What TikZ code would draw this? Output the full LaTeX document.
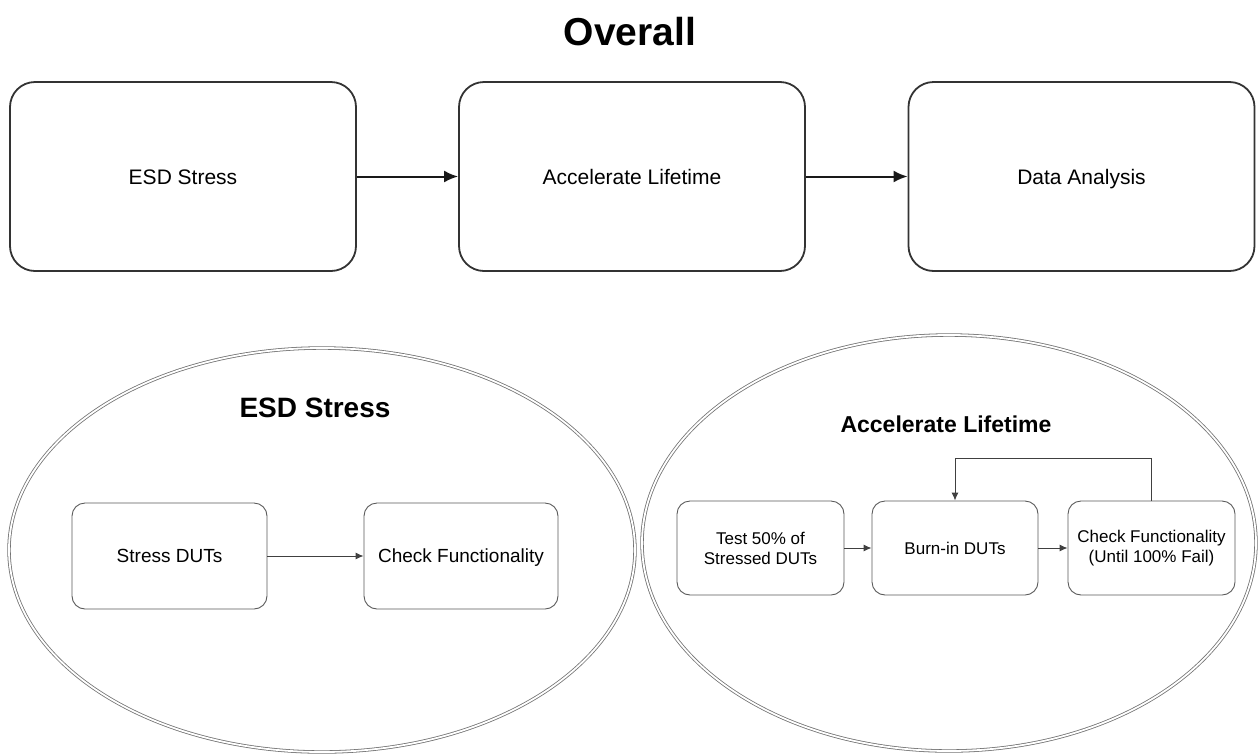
\documentclass[tikz,border=0pt]{standalone}
\usepackage{fontspec}
\setmainfont{Liberation Sans}
\usetikzlibrary{arrows.meta}

\begin{document}
\begin{tikzpicture}[x=1pt, y=-1pt,
    oneline/.style={text height=#1, text depth=0pt},
    bigbox/.style={draw=black!80, line width=1.8pt, rounded corners=25pt, minimum width=346pt, minimum height=189pt, oneline=15pt, font=\fontsize{21}{25}\selectfont},
    smallbox/.style={draw=black!65, line width=0.9pt, rounded corners=13pt, align=center},
    ring/.style={draw=black!55, line width=0.8pt, double=white, double distance=1.8pt},
    bigarrow/.style={-{Latex[length=14pt, width=12pt]}, line width=2pt, black!90},
    smallarrow/.style={-{Latex[length=8pt, width=7pt]}, line width=1pt, black!75}]
  \useasboundingbox (0,0) rectangle (1258,753);

  \node[font=\bfseries\fontsize{39}{44}\selectfont, oneline=28pt] (title) at (630,31.5) {Overall};

  % top row
  \node[bigbox] (esd) at (183,176.5) {ESD Stress};
  \node[bigbox] (acc) at (632,176.5) {Accelerate Lifetime};
  \node[bigbox] (data) at (1081.5,176.5) {Data Analysis};
  \draw[bigarrow] (esd) -- (acc);
  \draw[bigarrow] (acc) -- (data);

  % esd stress detail
  \draw[ring] (322,550) ellipse [x radius=313, y radius=202];
  \node[font=\bfseries\fontsize{28}{32}\selectfont, oneline=20pt] (esdtitle) at (315,407) {ESD Stress};
  \node[smallbox, oneline=13.6pt, minimum width=195pt, minimum height=106pt, font=\fontsize{19}{22}\selectfont] (stress) at (169.5,556) {Stress DUTs};
  \node[smallbox, oneline=13.6pt, minimum width=194pt, minimum height=106pt, font=\fontsize{19}{22}\selectfont] (check) at (461,556) {Check Functionality};
  \draw[smallarrow] (stress) -- (check);

  % accelerate lifetime detail
  \draw[ring] (949,543) ellipse [x radius=307, y radius=208];
  \node[font=\bfseries\fontsize{23}{27}\selectfont, oneline=16.5pt] (acctitle) at (946,424) {Accelerate Lifetime};
  \node[smallbox, minimum width=167pt, minimum height=94pt, font=\fontsize{17}{20}\selectfont] (test) at (760.5,548) {Test 50\% of\\Stressed DUTs};
  \node[smallbox, oneline=12.2pt, minimum width=166pt, minimum height=94pt, font=\fontsize{17}{20}\selectfont] (burn) at (955,548) {Burn-in DUTs};
  \node[smallbox, minimum width=167pt, minimum height=94pt, font=\fontsize{17}{20}\selectfont] (recheck) at (1151.5,548) {Check Functionality\\(Until 100\% Fail)};
  \draw[smallarrow] (test) -- (burn);
  \draw[smallarrow] (burn) -- (recheck);
  \draw[smallarrow] (recheck.north) |- (955,458) -- (burn.north);
\end{tikzpicture}
\end{document}
